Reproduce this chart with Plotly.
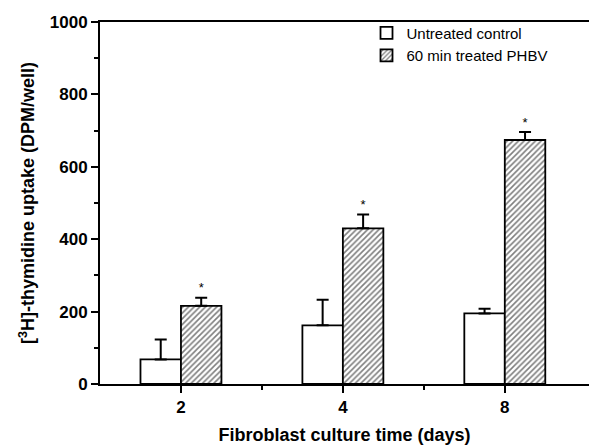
import plotly.graph_objects as go

days = ["2", "4", "8"]
control = [68, 162, 195]
control_err = [55, 71, 13]
treated = [216, 430, 674]
treated_err = [22, 38, 22]
significant = ["*", "*", "*"]

pos = [1, 2, 3]
font = "Arial, Liberation Sans, sans-serif"

fig = go.Figure()
fig.add_trace(go.Bar(
    x=pos, y=control, width=0.25, offset=-0.25,
    name="Untreated control",
    marker=dict(color="white", line=dict(color="black", width=1.8)),
    error_y=dict(type="data", symmetric=False, array=control_err,
                 arrayminus=[0] * 3, color="black", thickness=2, width=6),
))
fig.add_trace(go.Bar(
    x=pos, y=treated, width=0.25, offset=0,
    name="60 min treated PHBV",
    marker=dict(color="white", line=dict(color="black", width=1.8),
                pattern=dict(shape="/", fgcolor="black", bgcolor="white",
                             size=4, solidity=0.4)),
    error_y=dict(type="data", symmetric=False, array=treated_err,
                 arrayminus=[0] * 3, color="black", thickness=2, width=6),
))
fig.add_trace(go.Scatter(
    x=[p + 0.125 for p in pos],
    y=[t + e + 24 for t, e in zip(treated, treated_err)],
    mode="text", text=significant, showlegend=False,
    textfont=dict(family=font, size=13, color="#000000"),
))

fig.update_layout(
    width=593, height=446,
    margin=dict(l=100, r=4, t=22, b=58),
    paper_bgcolor="white", plot_bgcolor="white",
    barmode="overlay",
    font=dict(family=font, color="black"),
    legend=dict(x=0.545, y=1.015, xanchor="left", yanchor="top",
                bgcolor="rgba(0,0,0,0)", font=dict(size=15, family=font),
                tracegroupgap=0, itemwidth=30),
    xaxis=dict(
        range=[0.5, 3.52], tickvals=pos, ticktext=days,
        showline=True, linecolor="black", linewidth=2, mirror=True,
        ticks="outside", ticklen=7, tickwidth=2, tickcolor="black",
        minor=dict(tickmode="array", tickvals=[1.5, 2.5], ticks="outside",
                   ticklen=4, tickcolor="black", tickwidth=2),
        showgrid=False, zeroline=False,
        tickfont=dict(size=17, family=font, weight="bold"),
        title=dict(text="Fibroblast culture time (days)", standoff=12,
                   font=dict(size=18, family=font, weight="bold")),
    ),
    yaxis=dict(
        range=[0, 1000], tick0=0, dtick=200,
        showline=True, linecolor="black", linewidth=2,
        ticks="outside", ticklen=7, tickwidth=2, tickcolor="black",
        minor=dict(tickmode="linear", tick0=0, dtick=100, ticks="outside",
                   ticklen=4, tickcolor="black", tickwidth=2),
        showgrid=False, zeroline=False,
        tickfont=dict(size=17, family=font, weight="bold"),
        title=dict(text="[<sup>3</sup>H]-thymidine uptake (DPM/well)",
                   standoff=10,
                   font=dict(size=18, family=font, weight="bold")),
    ),
)

fig.write_html("out.html")
